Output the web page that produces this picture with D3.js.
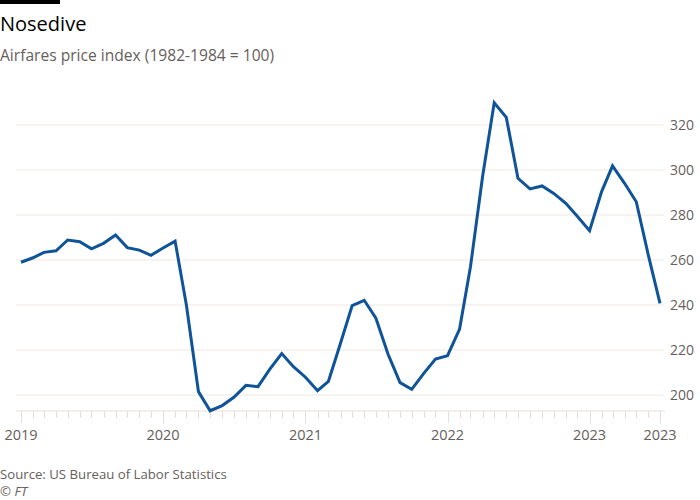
<!DOCTYPE html>
<html>
<head>
<meta charset="utf-8">
<script src="https://cdn.jsdelivr.net/npm/d3@7"></script>
<style>
  html, body { margin: 0; padding: 0; background: #ffffff; }
  svg { display: block; }
</style>
</head>
<body>
<svg id="chart" width="700" height="500"></svg>
<script>
// ---- Data ----
const months = [
  "2019-01","2019-02","2019-03","2019-04","2019-05","2019-06","2019-07","2019-08","2019-09","2019-10","2019-11","2019-12",
  "2020-01","2020-02","2020-03","2020-04","2020-05","2020-06","2020-07","2020-08","2020-09","2020-10","2020-11","2020-12",
  "2021-01","2021-02","2021-03","2021-04","2021-05","2021-06","2021-07","2021-08","2021-09","2021-10","2021-11","2021-12",
  "2022-01","2022-02","2022-03","2022-04","2022-05","2022-06","2022-07","2022-08","2022-09","2022-10","2022-11","2022-12",
  "2023-01","2023-02","2023-03","2023-04","2023-05","2023-06","2023-07"
];
const airfares = [
  259.0, 261.0, 263.4, 264.1, 268.9, 268.1, 265.0, 267.4, 271.1, 265.5, 264.4, 262.1,
  265.3, 268.4, 240.0, 201.5, 193.0, 195.3, 199.0, 204.3, 203.7, 211.4, 218.4, 212.6,
  207.9, 201.9, 206.1, 223.0, 239.7, 242.1, 234.1, 218.2, 205.5, 202.5, 209.6, 216.0,
  217.5, 229.3, 257.0, 297.0, 329.9, 323.4, 296.3, 291.6, 292.9, 289.6, 285.2, 279.3,
  273.0, 290.4, 301.8, 294.1, 285.9, 262.2, 240.7
];
const yTicks = [200, 220, 240, 260, 280, 300, 320];
const xYearTicks = ["2019-01","2020-01","2021-01","2022-01","2023-01"];
const xEndTick = "2023-07";

const title = "Nosedive";
const subtitle = "Airfares price index (1982-1984 = 100)";
const source = "Source: US Bureau of Labor Statistics";
const credit = "© FT";

// ---- Layout ----
const parse = d3.timeParse("%Y-%m");
const data = months.map((m, i) => ({ date: parse(m), value: airfares[i] }));

const svg = d3.select("#chart");
const font = "'Open Sans', 'Noto Sans', sans-serif";

const x = d3.scaleTime()
  .domain([parse(months[0]), parse(months[months.length - 1])])
  .range([21, 660]);
const y = d3.scaleLinear().domain([200, 320]).range([395, 125]);

const gridLeft = 16, gridRight = 664, axisY = 411;

// top black bar
svg.append("rect").attr("x", 0).attr("y", 0).attr("width", 60).attr("height", 4).attr("fill", "#000");

svg.append("text").attr("x", 0).attr("y", 31)
  .attr("font-family", font).attr("font-size", 20).attr("fill", "#000")
  .text(title);
svg.append("text").attr("x", 0).attr("y", 61)
  .attr("font-family", font).attr("font-size", 15.6).attr("fill", "#66605c")
  .text(subtitle);

// gridlines
const grid = svg.append("g");
grid.selectAll("line").data(yTicks).join("line")
  .attr("x1", gridLeft).attr("x2", gridRight)
  .attr("y1", d => y(d)).attr("y2", d => y(d))
  .attr("stroke", "#ece6e1").attr("stroke-width", 1);

// y labels on right
svg.append("g").selectAll("text").data(yTicks).join("text")
  .attr("x", 670).attr("y", d => y(d)).attr("dy", "0.35em")
  .attr("font-family", font).attr("font-size", 14).attr("fill", "#66605c")
  .text(d => d);

// x axis baseline
svg.append("line").attr("x1", gridLeft).attr("x2", 665)
  .attr("y1", axisY).attr("y2", axisY).attr("stroke", "#e6dfd9").attr("stroke-width", 1);

// monthly ticks
const monthTicks = x.ticks(d3.timeMonth.every(1));
const yearSet = new Set(xYearTicks.concat([xEndTick]));
const fmtM = d3.timeFormat("%Y-%m");
svg.append("g").selectAll("line").data(monthTicks).join("line")
  .attr("x1", d => Math.round(x(d)) + 0.5).attr("x2", d => Math.round(x(d)) + 0.5)
  .attr("y1", axisY).attr("y2", d => yearSet.has(fmtM(d)) ? axisY + 12 : axisY + 7)
  .attr("stroke", "#e6dfd9").attr("stroke-width", 1);

// x labels
const xLabels = xYearTicks.concat([xEndTick]).map(parse);
svg.append("g").selectAll("text").data(xLabels).join("text")
  .attr("x", d => x(d)).attr("y", 440)
  .attr("text-anchor", "middle")
  .attr("font-family", font).attr("font-size", 14.5).attr("fill", "#66605c")
  .text(d => d3.timeFormat("%Y")(d));

// line
const line = d3.line().x(d => x(d.date)).y(d => y(d.value));
svg.append("path").datum(data)
  .attr("d", line)
  .attr("fill", "none").attr("stroke", "#0f5499")
  .attr("stroke-width", 3).attr("stroke-linejoin", "miter").attr("stroke-linecap", "butt");

// source
svg.append("text").attr("x", 0).attr("y", 479)
  .attr("font-family", font).attr("font-size", 13.2).attr("fill", "#66605c")
  .text(source);
svg.append("text").attr("x", 0).attr("y", 496)
  .attr("font-family", font).attr("font-size", 13.2).attr("font-style", "italic").attr("fill", "#66605c")
  .text(credit);
</script>
</body>
</html>
